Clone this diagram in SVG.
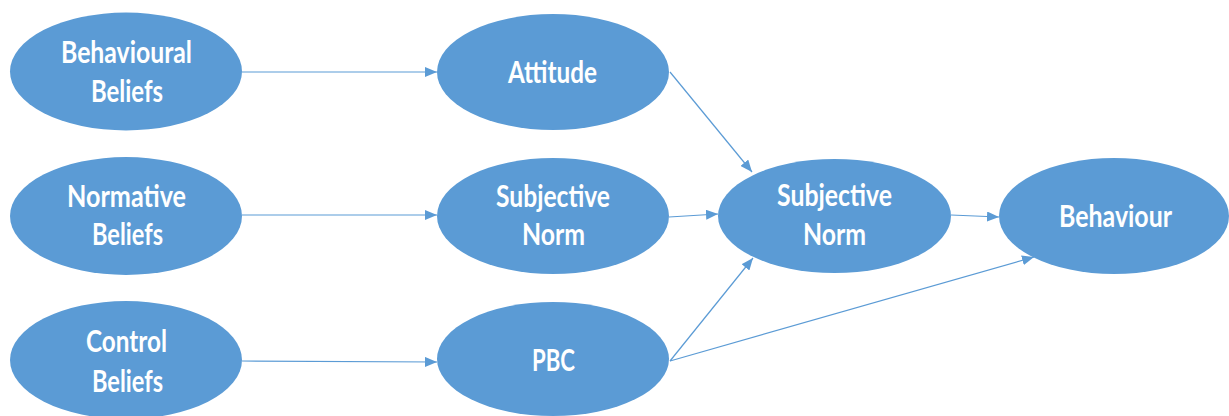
<svg xmlns="http://www.w3.org/2000/svg" width="1229" height="416" viewBox="0 0 1229 416">
<style>
.node ellipse{fill:#5B9BD5;}
.node text{fill:#FFFFFF;font-family:Lato,"Open Sans","Liberation Sans",sans-serif;font-weight:bold;font-size:30px;}
.conn line{stroke:#5B9BD5;stroke-width:1.2;fill:none;marker-end:url(#ah);}
</style>
<defs>
<marker id="ah" markerUnits="userSpaceOnUse" markerWidth="12" markerHeight="10" refX="12" refY="5" orient="auto">
<path d="M0,0 L12,5 L0,10 Z" fill="#5B9BD5"/>
</marker>
</defs>
<rect width="1229" height="416" fill="#FFFFFF"/>
<g id="connectors" class="conn">
<line x1="242" y1="72" x2="437" y2="72"/>
<line x1="242" y1="215" x2="437" y2="215"/>
<line x1="242" y1="361" x2="437" y2="362"/>
<line x1="670" y1="72" x2="752" y2="172"/>
<line x1="669" y1="217" x2="718" y2="214"/>
<line x1="670" y1="361" x2="753" y2="258"/>
<line x1="670" y1="361" x2="1034" y2="257"/>
<line x1="951" y1="215" x2="999" y2="217"/>
</g>
<g id="behavioural-beliefs" class="node">
<ellipse cx="126" cy="71.5" rx="116" ry="59"/>
<text x="61" y="63" textLength="131" lengthAdjust="spacingAndGlyphs">Behavioural</text>
<text x="91" y="102" textLength="72" lengthAdjust="spacingAndGlyphs">Beliefs</text>
</g>
<g id="normative-beliefs" class="node">
<ellipse cx="126" cy="216" rx="116" ry="59"/>
<text x="67" y="207" textLength="119" lengthAdjust="spacingAndGlyphs">Normative</text>
<text x="92" y="245" textLength="71" lengthAdjust="spacingAndGlyphs">Beliefs</text>
</g>
<g id="control-beliefs" class="node">
<ellipse cx="126" cy="360" rx="116" ry="59"/>
<text x="86" y="352" textLength="81" lengthAdjust="spacingAndGlyphs">Control</text>
<text x="92" y="392" textLength="71" lengthAdjust="spacingAndGlyphs">Beliefs</text>
</g>
<g id="attitude" class="node">
<ellipse cx="553" cy="72" rx="116" ry="58"/>
<text x="508" y="83" textLength="89" lengthAdjust="spacingAndGlyphs">Attitude</text>
</g>
<g id="subjective-norm-1" class="node">
<ellipse cx="553" cy="216" rx="116" ry="58"/>
<text x="496" y="207" textLength="114" lengthAdjust="spacingAndGlyphs">Subjective</text>
<text x="522" y="245" textLength="63" lengthAdjust="spacingAndGlyphs">Norm</text>
</g>
<g id="pbc" class="node">
<ellipse cx="553" cy="359" rx="116" ry="57"/>
<text x="532" y="371" textLength="43" lengthAdjust="spacingAndGlyphs">PBC</text>
</g>
<g id="subjective-norm-2" class="node">
<ellipse cx="834.5" cy="216" rx="116.5" ry="57"/>
<text x="777" y="206" textLength="115" lengthAdjust="spacingAndGlyphs">Subjective</text>
<text x="803" y="245" textLength="63" lengthAdjust="spacingAndGlyphs">Norm</text>
</g>
<g id="behaviour" class="node">
<ellipse cx="1114" cy="216" rx="115" ry="58"/>
<text x="1059" y="227" textLength="113" lengthAdjust="spacingAndGlyphs">Behaviour</text>
</g>
</svg>
